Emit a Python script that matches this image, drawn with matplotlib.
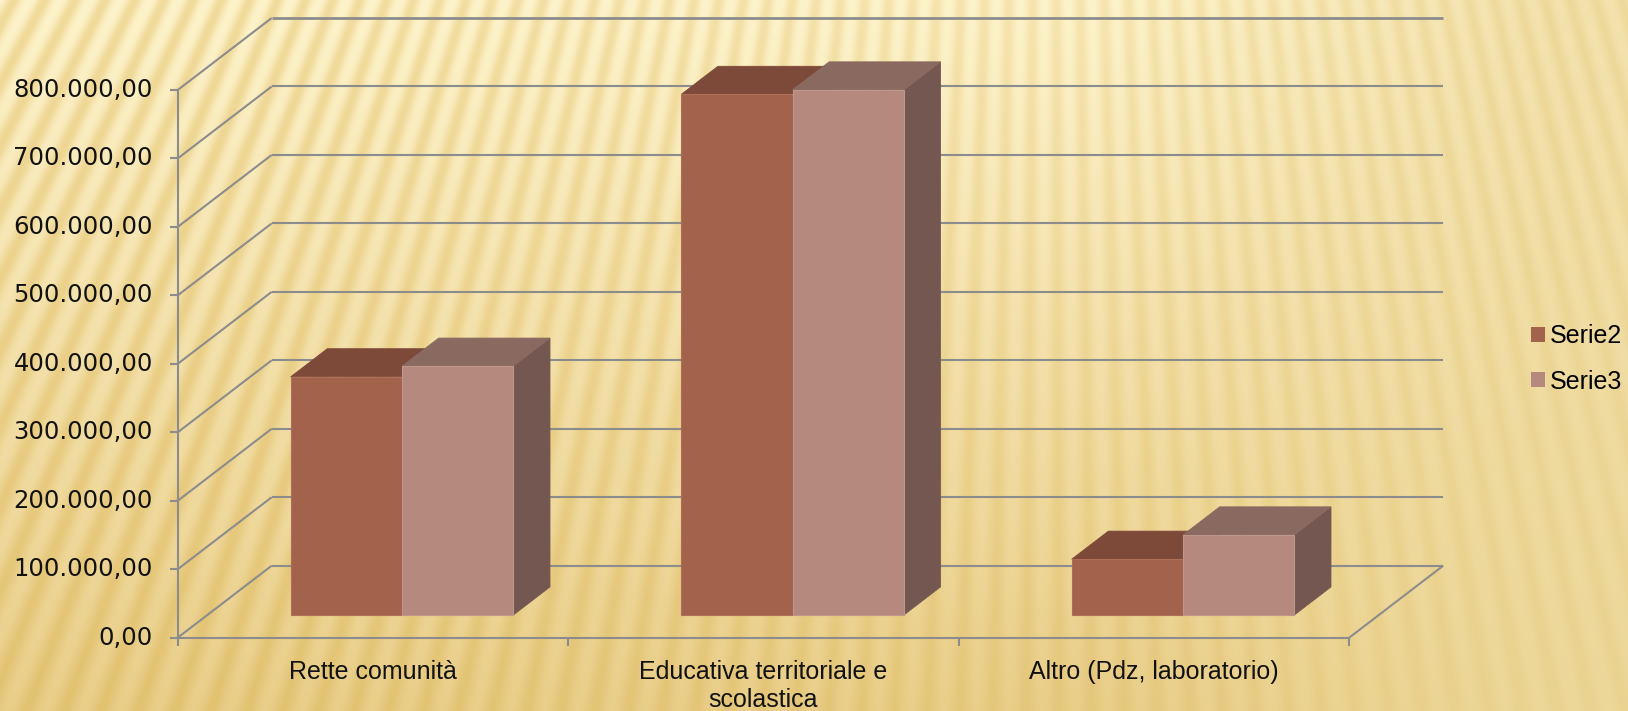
import numpy as np
import matplotlib
matplotlib.use("Agg")
import matplotlib.pyplot as plt
from matplotlib.patches import Polygon, Patch

# data
categories = ["Rette comunità", "Educativa territoriale e\nscolastica", "Altro (Pdz, laboratorio)"]
series_names = ["Serie2", "Serie3"]
serie2 = [348000, 760500, 81500]
serie3 = [363500, 767000, 117000]
y_ticks = [0, 100000, 200000, 300000, 400000, 500000, 600000, 700000, 800000]

FRONT = {"Serie2": "#A3624C", "Serie3": "#B5897E"}
TOP = {"Serie2": "#7D4A3A", "Serie3": "#8A6A60"}
SIDE = {"Serie2": "#6E4536", "Serie3": "#735750"}
EDGE = {"Serie2": "#AE6F59", "Serie3": "#BE968B"}
GRID = "#8C8C8C"

W, H, DPI = 1628, 711, 100
# pixel layout of the front plane of the plot box
X0_PX, CAT_PX = 177.7, 390.5
Y0_PX, PX_PER_100K = 637.7, 68.46
DEPTH_DX_PX, DEPTH_DY_PX = 94, 72

DX = DEPTH_DX_PX / CAT_PX                 # depth shift in category units
DY = DEPTH_DY_PX / PX_PER_100K * 1e5      # depth shift in value units
GAP, BW = 0.2136, 0.285                   # bar gap / width (category units)
Z0, Z1 = 0.315, 0.705                     # bar depth span (0 = front, 1 = back wall)
VMAX = y_ticks[-1]


def proj(x, v, z):
    """oblique projection of (category x, value v, depth z) onto the axes."""
    return (x + z * DX, v + z * DY)


def px_to_v(px):
    return px / PX_PER_100K * 1e5


def background():
    # slide-theme texture: soft rays converging above the slide
    yy, xx = np.mgrid[0:H, 0:W].astype(float)
    theta = np.arctan2(xx - 1050, yy + 1900)
    stripes = (0.5 + 0.5 * np.sin(500 * theta)) ** 1.3
    t = (yy / H)[..., None]
    top_c = np.array([253, 243, 203], float)
    bot_c = np.array([233, 206, 137], float)
    base = top_c * (1 - t) + bot_c * t
    right_w = (np.clip((xx - 1100) / 450, 0, 1) * 0.7)[..., None]
    base = base * (1 - right_w) + np.array([238, 219, 160], float) * right_w
    amp = np.clip(1.0 - yy / H * 0.5, 0, 1) * np.clip(1.1 - xx / W * 0.75, 0, 1)
    img = base - (stripes * amp)[..., None] * np.array([12, 24, 48], float)
    return np.clip(img, 0, 255).astype(np.uint8)


plt.rcParams["font.family"] = ["Liberation Sans", "DejaVu Sans"]

fig = plt.figure(figsize=(W / DPI, H / DPI), dpi=DPI)
ax = fig.add_axes([0, 0, 1, 1])
xlim = (-X0_PX / CAT_PX, (W - X0_PX) / CAT_PX)
ylim = (-px_to_v(H - Y0_PX), px_to_v(Y0_PX))
ax.imshow(background(), extent=(*xlim, *ylim), aspect="auto", zorder=0, interpolation="bilinear")
ax.set_xlim(*xlim)
ax.set_ylim(*ylim)
ax.axis("off")

ncat = len(categories)
gkw = dict(color=GRID, lw=1.5, zorder=1, solid_capstyle="butt")

# walls: left-wall diagonals, back-wall gridlines
for v in y_ticks:
    (xa, ya), (xb, yb) = proj(0, v, 0), proj(0, v, 1)
    ax.plot([xa, xb], [ya, yb], **gkw)
    (xc, yc) = proj(ncat, v, 1)
    ax.plot([xb, xc], [yb, yc], **dict(gkw, lw=2.0 if v == VMAX else 1.5))
    ax.plot([-0.0197, 0], [v, v], **gkw)
    ax.text(-0.0633, v, f"{v:,.2f}".replace(",", "X").replace(".", ",").replace("X", "."),
            ha="right", va="center", fontsize=17.5, family=["DejaVu Sans"], color="#111111")

# front axis, floor edges, category ticks
ax.plot([0, 0], [0, VMAX], **gkw)
ax.plot([0, ncat], [0, 0], **gkw)
(xa, ya), (xb, yb) = proj(ncat, 0, 0), proj(ncat, 0, 1)
ax.plot([xa, xb], [ya, yb], **gkw)
for i in range(ncat + 1):
    ax.plot([i, i], [0, -px_to_v(8)], **gkw)

# 3D bars, drawn left to right so nearer faces overlap
data = {"Serie2": serie2, "Serie3": serie3}
for i in range(ncat):
    for j, name in enumerate(series_names):
        v = data[name][i]
        x0 = i + GAP + j * BW
        x1 = x0 + BW
        side = [proj(x1, 0, Z0), proj(x1, 0, Z1), proj(x1, v, Z1), proj(x1, v, Z0)]
        top = [proj(x0, v, Z0), proj(x1, v, Z0), proj(x1, v, Z1), proj(x0, v, Z1)]
        front = [proj(x0, 0, Z0), proj(x1, 0, Z0), proj(x1, v, Z0), proj(x0, v, Z0)]
        ax.add_patch(Polygon(side, closed=True, fc=SIDE[name], ec=SIDE[name], lw=0.6, zorder=2))
        ax.add_patch(Polygon(top, closed=True, fc=TOP[name], ec=TOP[name], lw=0.6, zorder=2))
        ax.add_patch(Polygon(front, closed=True, fc=FRONT[name], ec=EDGE[name], lw=0.8, zorder=2))

for i, cat in enumerate(categories):
    ax.text(i + 0.5, -px_to_v(22), cat, ha="center", va="top", fontsize=18,
            linespacing=1.25, color="#111111")

handles = [Patch(fc=FRONT[n], ec="none", label=n) for n in series_names]
fig.legend(handles=handles, loc="center left", bbox_to_anchor=(1531 / W, 1 - 359 / H),
           frameon=False, fontsize=18, handlelength=0.55, handleheight=0.55,
           handletextpad=0.22, labelspacing=0.85, borderpad=0, borderaxespad=0)

fig.savefig("out.png", dpi=DPI)
